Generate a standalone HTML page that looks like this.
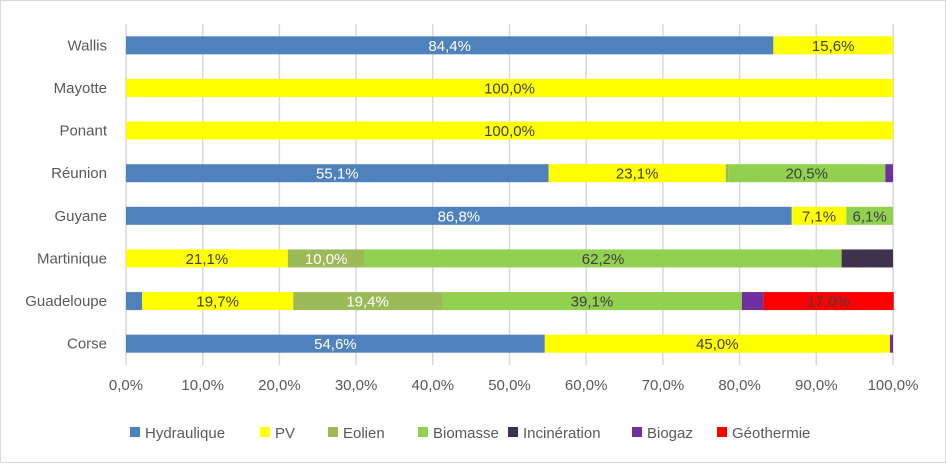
<!DOCTYPE html>
<html><head><meta charset="utf-8"><style>
body{margin:0;background:#fff;font-family:"Liberation Sans",Arial,sans-serif}
#c{position:relative;width:946px;height:463px;box-sizing:border-box;border:1px solid #d9d9d9}
</style></head><body>
<div id="c">
<svg id="s" width="944" height="461"></svg>
</div>
<script>
const categories=["Wallis","Mayotte","Ponant","Réunion","Guyane","Martinique","Guadeloupe","Corse"];
const seriesNames=["Hydraulique","PV","Eolien","Biomasse","Incinération","Biogaz","Géothermie"];
const hydraulique=[84.4,0,0,55.1,86.8,0.0,2.1,54.6];
const pv=[15.6,100,100,23.1,7.1,21.1,19.7,45.0];
const eolien=[0,0,0,0.3,0,10.0,19.4,0];
const biomasse=[0,0,0,20.5,6.1,62.2,39.1,0];
const incineration=[0,0,0,0,0,6.7,0,0];
const biogaz=[0,0,0,1.0,0,0,2.8,0.4];
const geothermie=[0,0,0,0,0,0,17.0,0];
const xTicks=[0,10,20,30,40,50,60,70,80,90,100];
const colors=["#4F81BD","#FFFF00","#9BBB59","#92D050","#403151","#7030A0","#FF0000"];
const labelColors=["#fff","#404040","#fff","#404040","#3a3a3a","#fff","#404040"];
const series=[hydraulique,pv,eolien,biomasse,incineration,biogaz,geothermie];
const NS="http://www.w3.org/2000/svg";
const svg=document.getElementById('s');
const x0=125,x1=892,yTop=23,yBot=364;
const xs=v=>x0+(x1-x0)*v/100;
const band=(yBot-yTop)/categories.length;
const yc=i=>yTop+band*(i+0.5);
const bh=18;
function mk(t,a){const e=document.createElementNS(NS,t);for(const k in a)e.setAttribute(k,a[k]);svg.appendChild(e);return e;}
xTicks.forEach(t=>{
 const g=mk('line',{x1:xs(t),x2:xs(t),y1:yTop,y2:yBot,stroke:'#d9d9d9','stroke-width':1.5});
 
 
 const tx=mk('text',{x:xs(t),y:389,'text-anchor':'middle','font-size':15,fill:'#595959'});
 tx.textContent=t.toFixed(1).replace('.',',')+'%';
 
 
});
categories.forEach((c,i)=>{
 const tx=mk('text',{x:106,y:yc(i)+5,'text-anchor':'end','font-size':15,fill:'#595959'});
 tx.textContent=c;
 
 
 let acc=0;
 series.forEach((s,k)=>{
  const v=s[i];
  if(v<=0){return;}
  const r=mk('rect',{x:xs(acc),y:yc(i)-bh/2,width:xs(acc+v)-xs(acc),height:bh,fill:colors[k]});
  
  
  if(v>=3){
   const l=mk('text',{x:(xs(acc)+xs(acc+v))/2,y:yc(i)+5.5,'text-anchor':'middle','font-size':15,fill:labelColors[k]});
   l.textContent=v.toFixed(1).replace('.',',')+'%';
   
   
  }
  acc+=v;
 });
});
const lx=[129,259,327,417,507,631,716];
seriesNames.forEach((n,k)=>{
 const r=mk('rect',{x:lx[k],y:426,width:10,height:10,fill:colors[k]});
 
 
 const t=mk('text',{x:lx[k]+15,y:437,'font-size':15,fill:'#595959'});
 t.textContent=n;
 
 
});
</script>
</body></html>
